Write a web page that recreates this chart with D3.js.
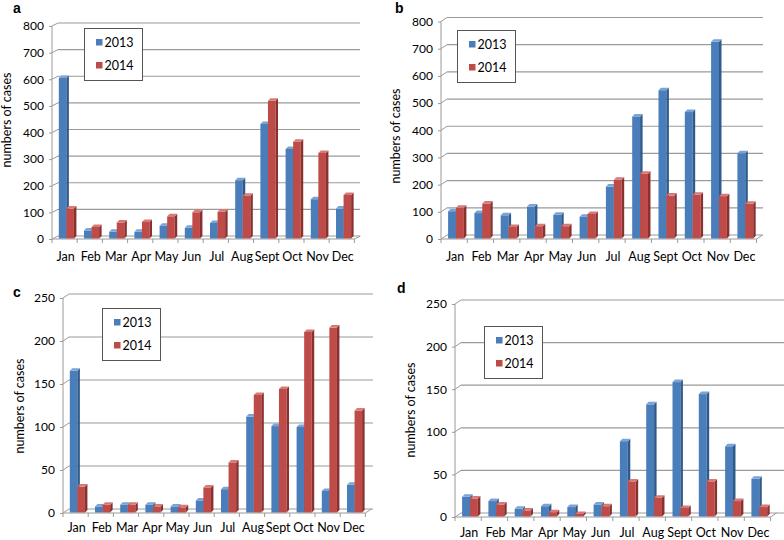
<!DOCTYPE html>
<html>
<head>
<meta charset="utf-8">
<script src="https://cdn.jsdelivr.net/npm/d3@7/dist/d3.min.js"></script>
<style>
  html, body { margin: 0; padding: 0; background: #fff; }
  svg { display: block; }
  text { font-family: Lato, "Open Sans", sans-serif; fill: #000; }
</style>
</head>
<body>
<svg id="chart" width="784" height="540"></svg>
<script>
// ---------- data ----------
const months = ["Jan","Feb","Mar","Apr","May","Jun","Jul","Aug","Sept","Oct","Nov","Dec"];
const seriesNames = ["2013","2014"];

const panelA2013 = [600, 30, 25, 25, 48, 40, 58, 218, 428, 335, 147, 112];
const panelA2014 = [112, 43, 60, 62, 83, 98, 100, 160, 515, 362, 320, 163];

const panelB2013 = [100, 93, 85, 117, 87, 80, 190, 447, 543, 463, 720, 312];
const panelB2014 = [113, 128, 42, 45, 45, 90, 215, 237, 157, 160, 155, 127];

const panelC2013 = [164, 7, 9, 9, 7, 14, 27, 111, 100, 99, 25, 32];
const panelC2014 = [30, 9, 9, 7, 6, 29, 58, 136, 143, 209, 214, 118];

const panelD2013 = [23, 18, 9, 12, 11, 14, 88, 131, 157, 143, 82, 44];
const panelD2014 = [21, 14, 7, 5, 3, 12, 41, 22, 10, 41, 18, 11];

const ticksTop = [0, 100, 200, 300, 400, 500, 600, 700, 800];
const ticksBottom = [0, 50, 100, 150, 200, 250];

const panelLetters = ["a", "b", "c", "d"];
const yTitle = "numbers of cases";

// ---------- layout ----------
const colors = {
  "2013": { front: "#4a7ebb", side: "#2f5a8c", top: "#7aa3d6" },
  "2014": { front: "#be4b48", side: "#8a302e", top: "#d77a77" }
};

const panels = [
  { letter: panelLetters[0], s13: panelA2013, s14: panelA2014, ticks: ticksTop, max: 800,
    x0: 52, W: 25.2, y0: 239, yTop: 26, dx: 6, dy: 3, gridRight: 360,
    letterPos: [13, 13], titlePos: [11, 120], legend: [84, 28], labelY: 261 },
  { letter: panelLetters[1], s13: panelB2013, s14: panelB2014, ticks: ticksTop, max: 800,
    x0: 441, W: 26.3, y0: 239, yTop: 21.5, dx: 6, dy: 4, gridRight: 763,
    letterPos: [395, 13], titlePos: [400, 136], legend: [457, 30], labelY: 261 },
  { letter: panelLetters[2], s13: panelC2013, s14: panelC2014, ticks: ticksBottom, max: 250,
    x0: 63, W: 25.2, y0: 513, yTop: 298, dx: 6, dy: 4, gridRight: 373,
    letterPos: [13, 297], titlePos: [24, 406], legend: [102, 308], labelY: 532 },
  { letter: panelLetters[3], s13: panelD2013, s14: panelD2014, ticks: ticksBottom, max: 250,
    x0: 455, W: 26.3, y0: 517, yTop: 304, dx: 6, dy: 4, gridRight: 784,
    letterPos: [397, 293], titlePos: [415, 410], legend: [484, 326], labelY: 537 }
];

const svg = d3.select("#chart");

function drawPanel(p) {
  const g = svg.append("g");
  const xRight = p.x0 + 12 * p.W;
  const x = d3.scaleBand().domain(months).range([p.x0, xRight]).paddingInner(0).paddingOuter(0);
  const yFront = d3.scaleLinear().domain([0, p.max]).range([p.y0, p.yTop]);
  const yBack = d3.scaleLinear().domain([0, p.max]).range([p.y0 - p.dy, p.yTop - p.dy]);
  const yBar = d3.scaleLinear().domain([0, p.max]).range([p.y0 - 0.5, p.yTop - 1.5]);

  const gridColor = "#9a9a9a";

  // gridlines: side-wall diagonal + back-wall horizontal
  p.ticks.forEach(t => {
    g.append("line")
      .attr("x1", p.x0).attr("y1", yFront(t))
      .attr("x2", p.x0 + p.dx).attr("y2", yBack(t))
      .attr("stroke", gridColor).attr("stroke-width", 1);
    g.append("line")
      .attr("x1", p.x0 + p.dx).attr("y1", yBack(t))
      .attr("x2", p.gridRight).attr("y2", yBack(t))
      .attr("stroke", gridColor).attr("stroke-width", t === 0 ? 1 : 1.2);
  });

  // floor front edge + right diagonal
  g.append("line")
    .attr("x1", p.x0).attr("y1", p.y0).attr("x2", xRight).attr("y2", p.y0)
    .attr("stroke", gridColor);
  g.append("line")
    .attr("x1", xRight).attr("y1", p.y0).attr("x2", xRight + p.dx).attr("y2", p.y0 - p.dy)
    .attr("stroke", gridColor);
  // front vertical axis
  g.append("line")
    .attr("x1", p.x0).attr("y1", yFront(p.max)).attr("x2", p.x0).attr("y2", p.y0)
    .attr("stroke", gridColor);

  // category boundary ticks
  const bounds = months.map(m => x(m)).concat([xRight]);
  g.selectAll(null).data(bounds).enter().append("line")
    .attr("x1", d => d).attr("x2", d => d)
    .attr("y1", p.y0).attr("y2", p.y0 + 4)
    .attr("stroke", gridColor);

  // y axis labels via d3 axis
  const yAxis = d3.axisLeft(yFront).tickValues(p.ticks).tickSize(3).tickPadding(5).tickFormat(d3.format("d"));
  const ya = g.append("g").attr("transform", `translate(${p.x0},0)`).call(yAxis);
  ya.select(".domain").remove();
  ya.selectAll(".tick line").attr("stroke", gridColor);
  ya.selectAll(".tick text").style("font-family", "Lato, sans-serif").style("font-size", "12px").attr("fill", "#000");

  // x axis labels via d3 axis
  const xAxis = d3.axisBottom(x).tickSize(0).tickPadding(0);
  const xa = g.append("g").attr("transform", `translate(1,${p.labelY - 9})`).call(xAxis);
  xa.select(".domain").remove();
  xa.selectAll(".tick text").style("font-family", "Lato, sans-serif").style("font-size", "12.5px").attr("fill", "#000").attr("dy", "0.71em");

  // bars
  const bw = 0.3 * p.W;
  const bd = 2.5;
  const offsets = { "2013": 0.27, "2014": 0.57 };
  months.forEach((m, i) => {
    seriesNames.forEach(s => {
      const v = (s === "2013" ? p.s13 : p.s14)[i];
      const bx = x(m) + offsets[s] * p.W;
      const by = yBar(v);
      const yb = yBar(0);
      const c = colors[s];
      g.append("rect").attr("x", bx).attr("y", by).attr("width", bw).attr("height", Math.max(0, yb - by))
        .attr("fill", c.front);
      g.append("polygon")
        .attr("points", [[bx + bw, by], [bx + bw + bd, by - bd], [bx + bw + bd, yb - bd], [bx + bw, yb]].map(q => q.join(",")).join(" "))
        .attr("fill", c.side);
      g.append("polygon")
        .attr("points", [[bx, by], [bx + bd, by - bd], [bx + bw + bd, by - bd], [bx + bw, by]].map(q => q.join(",")).join(" "))
        .attr("fill", c.top);
    });
  });

  // legend
  const lg = g.append("g").attr("transform", `translate(${p.legend[0]},${p.legend[1]})`);
  lg.append("rect").attr("x", 0.5).attr("y", 0.5).attr("width", 58).attr("height", 52)
    .attr("fill", "#fff").attr("stroke", "#555").attr("stroke-width", 1);
  seriesNames.forEach((s, i) => {
    lg.append("rect").attr("x", 12).attr("y", 11 + i * 23).attr("width", 6.5).attr("height", 6.5)
      .attr("fill", colors[s].front);
    lg.append("text").attr("x", 20.5).attr("y", 18.5 + i * 23)
      .style("font-size", "12.5px").text(s);
  });

  // y title
  g.append("text")
    .attr("transform", `translate(${p.titlePos[0]},${p.titlePos[1]}) rotate(-90)`)
    .attr("text-anchor", "middle")
    .style("font-size", "12.5px")
    .text(yTitle);

  // panel letter
  g.append("text")
    .attr("x", p.letterPos[0]).attr("y", p.letterPos[1])
    .style("font-family", "'Liberation Sans', Arial, sans-serif")
    .style("font-weight", "bold").style("font-size", "14px")
    .text(p.letter);
}

panels.forEach(drawPanel);
</script>
</body>
</html>
